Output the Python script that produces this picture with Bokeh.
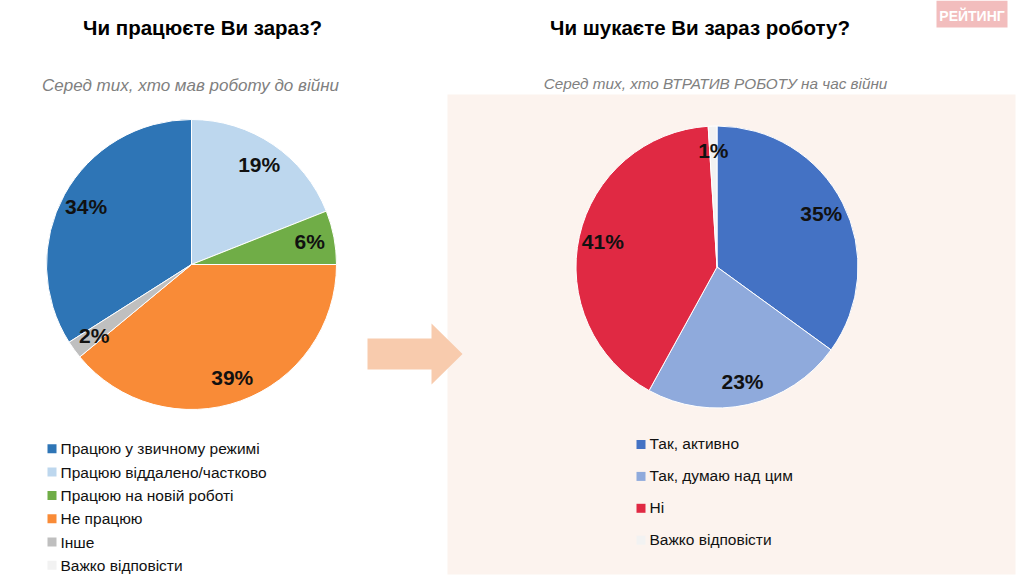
import numpy as np
from bokeh.plotting import figure
from bokeh.models import Range1d, ColumnDataSource
from bokeh.core.properties import value
from bokeh.embed import file_html
from bokeh.resources import INLINE

# ---------------- data ----------------
left_title = "Чи працюєте Ви зараз?"
left_subtitle = "Серед тих, хто мав роботу до війни"
left_categories = ["Працюю у звичному режимі", "Працюю віддалено/частково",
                   "Працюю на новій роботі", "Не працюю", "Інше", "Важко відповісти"]
left_values = [34, 19, 6, 39, 2, 0]
left_colors = ["#2E75B6", "#BDD7EE", "#70AD47", "#F98B37", "#BFBFBF", "#F2F2F2"]

right_title = "Чи шукаєте Ви зараз роботу?"
right_subtitle = "Серед тих, хто ВТРАТИВ РОБОТУ на час війни"
right_categories = ["Так, активно", "Так, думаю над цим", "Ні", "Важко відповісти"]
right_values = [35, 23, 41, 1]
right_colors = ["#4472C4", "#8FAADC", "#E02943", "#F2F2F2"]

logo_text = "РЕЙТИНГ"

# ---------------- layout helpers ----------------
W, H = 1024, 579


def Y(py):
    return H - py


FONT = "Liberation Sans"

p = figure(width=W, height=H, x_range=Range1d(0, W), y_range=Range1d(0, H),
           output_backend="svg", toolbar_location=None, min_border=0,
           x_axis_location=None, y_axis_location=None)
p.grid.visible = False
p.outline_line_color = None
p.background_fill_color = "white"
p.border_fill_color = "white"

# right panel background
p.quad(left=447, right=1015, top=Y(94), bottom=Y(574), fill_color="#FCF3EE", line_color=None)

# arrow (decoration)
ax = [367, 431, 431, 462, 431, 431, 367]
ay = [338, 338, 323, 353.5, 384, 369, 369]
p.patch(ax, [Y(v) for v in ay], fill_color="#F8CBAD", line_color=None)

# logo
p.quad(left=936, right=1007, top=Y(0), bottom=Y(27), fill_color="#F2BDBD", line_color=None)
p.text(x=[971.5], y=[Y(15)], text=[logo_text], text_font=value(FONT), text_font_style="bold",
       text_font_size="14px", text_color="white", text_align="center", text_baseline="middle")


def pie(cx, cy, r, values, colors, offset, label_ratio):
    vals = np.array(values, dtype=float)
    frac = vals / vals.sum()
    before = np.concatenate([[0], np.cumsum(frac)[:-1]])
    start = np.pi / 2 - 2 * np.pi * (offset + before)
    end = np.pi / 2 - 2 * np.pi * (offset + before + frac)
    mid = (start + end) / 2
    keep = vals > 0
    src = ColumnDataSource(dict(start=start[keep], end=end[keep],
                                color=[c for c, k in zip(colors, keep) if k]))
    p.wedge(x=cx, y=Y(cy), radius=r, start_angle="start", end_angle="end", direction="clock",
            fill_color="color", line_color="white", line_width=1, source=src)
    lx = cx + label_ratio * r * np.cos(mid[keep])
    ly = Y(cy) + label_ratio * r * np.sin(mid[keep])
    labels = [f"{int(v)}%" for v in vals[keep]]
    p.text(x=lx, y=ly, text=labels, text_font=value(FONT), text_font_style="bold",
           text_font_size="21px", text_color="#111111", text_align="center", text_baseline="middle")


left_frac0 = left_values[0] / sum(left_values)
pie(191, 264, 145, left_values, left_colors, -left_frac0, 0.83)
pie(716.5, 266.5, 141, right_values, right_colors, 0.0, 0.83)

# titles
p.text(x=[202], y=[Y(26.5)], text=[left_title], text_font=value(FONT), text_font_style="bold",
       text_font_size="20.5px", text_color="black", text_align="center", text_baseline="middle")
p.text(x=[699.5], y=[Y(26.5)], text=[right_title], text_font=value(FONT), text_font_style="bold",
       text_font_size="20.5px", text_color="black", text_align="center", text_baseline="middle")
p.text(x=[190], y=[Y(85)], text=[left_subtitle], text_font=value(FONT), text_font_style="italic",
       text_font_size="17px", text_color="#808080", text_align="center", text_baseline="middle")
p.text(x=[715], y=[Y(82.5)], text=[right_subtitle], text_font=value(FONT), text_font_style="italic",
       text_font_size="15.3px", text_color="#808080", text_align="center", text_baseline="middle")

# legends
n = len(left_categories)
ly_c = [448.3 + 23.3 * i for i in range(n)]
p.rect(x=[51.5] * n, y=[Y(v) for v in ly_c], width=9, height=9, fill_color=left_colors, line_color=None)
p.text(x=[60] * n, y=[Y(v) for v in ly_c], text=left_categories, text_font=value(FONT),
       text_font_size="15.5px", text_color="#111111", text_align="left", text_baseline="middle")

m = len(right_categories)
ry_c = [444.0 + 31.9 * i for i in range(m)]
p.rect(x=[640.5] * m, y=[Y(v) for v in ry_c], width=9, height=9, fill_color=right_colors, line_color=None)
p.text(x=[649] * m, y=[Y(v - 1) for v in ry_c], text=right_categories, text_font=value(FONT),
       text_font_size="15.5px", text_color="#111111", text_align="left", text_baseline="middle")

open("out.html", "w").write(file_html(p, INLINE))
